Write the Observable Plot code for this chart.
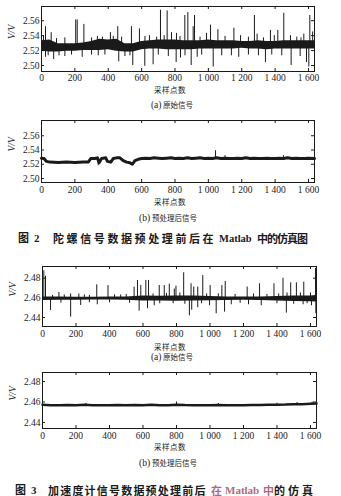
<!DOCTYPE html>
<html>
<head>
<meta charset="utf-8">
<script src="https://cdn.jsdelivr.net/npm/d3@7"></script>
<script src="https://cdn.jsdelivr.net/npm/@observablehq/plot@0.6"></script>
<style>
  body { margin: 0; background: #fff; }
  #page { position: relative; width: 341px; height: 496px; overflow: hidden; color: #1a1a1a; }
  .panel { position: absolute; left: 0; }
  .t { position: absolute; white-space: nowrap; line-height: 1; font-family: "Noto Sans CJK SC", sans-serif; }
  .c { transform: translate(-50%, -50%); }
  .cap { transform: translateY(-50%); font-weight: 700; font-size: 11px; }
  .latin { font-family: "Liberation Serif", serif; }
</style>
</head>
<body>
<div id="page"></div>
<script>
// ---------- shared axes ----------
const xTicks = [0, 200, 400, 600, 800, 1000, 1200, 1400, 1600];
const xDomain = [0, 1636];
const gyroTicks = [2.50, 2.52, 2.54, 2.56];
const accelTicks = [2.44, 2.46, 2.48];

// ---------- gyro, raw signal ----------
// envelope of the dense noise band, sampled every 50 points
const gyroEnvX  = [0, 50, 100, 150, 200, 250, 300, 350, 400, 450, 500, 550, 600, 650, 700, 750, 800, 850, 900, 950, 1000, 1050, 1100, 1150, 1200, 1250, 1300, 1350, 1400, 1450, 1500, 1550, 1600, 1636];
const gyroEnvLo = [2.519, 2.518, 2.518, 2.519, 2.519, 2.520, 2.520, 2.520, 2.521, 2.519, 2.518, 2.518, 2.521, 2.522, 2.522, 2.521, 2.521, 2.521, 2.521, 2.522, 2.522, 2.522, 2.522, 2.522, 2.523, 2.522, 2.522, 2.521, 2.522, 2.522, 2.522, 2.522, 2.522, 2.522];
const gyroEnvHi = [2.533, 2.534, 2.529, 2.529, 2.529, 2.530, 2.532, 2.535, 2.534, 2.535, 2.529, 2.529, 2.532, 2.533, 2.534, 2.534, 2.534, 2.533, 2.533, 2.533, 2.534, 2.533, 2.533, 2.533, 2.532, 2.532, 2.533, 2.532, 2.532, 2.533, 2.533, 2.533, 2.533, 2.533];
const gyroLevel = 2.527;
// upward spikes (sample index, peak value)
const gyroUpX = [24, 58, 205, 214, 254, 413, 457, 539, 587, 647, 713, 753, 779, 809, 859, 877, 909, 917, 989, 1013, 1057, 1153, 1193, 1276, 1292, 1372, 1416, 1452, 1492, 1572, 1608,
                 12, 90, 140, 300, 335, 365, 430, 480, 620, 690, 735, 830, 950, 1100, 1240, 1330, 1395, 1530, 1555, 1625];
const gyroUpV = [2.552, 2.544, 2.561, 2.561, 2.555, 2.544, 2.552, 2.552, 2.549, 2.540, 2.574, 2.573, 2.544, 2.543, 2.567, 2.571, 2.552, 2.567, 2.543, 2.554, 2.548, 2.550, 2.540, 2.567, 2.542, 2.547, 2.547, 2.570, 2.540, 2.542, 2.567,
                 2.540, 2.536, 2.537, 2.537, 2.539, 2.538, 2.539, 2.538, 2.539, 2.538, 2.540, 2.539, 2.538, 2.539, 2.538, 2.537, 2.540, 2.538, 2.537, 2.545];
// downward spikes
const gyroDownX = [24, 73, 105, 244, 463, 547, 619, 669, 807, 833, 897, 933, 1029, 1138, 1182, 1342, 1496, 1588, 1602,
                   40, 140, 180, 300, 340, 380, 500, 530, 700, 760, 860, 960, 1080, 1240, 1300, 1380, 1440, 1550];
const gyroDownV = [2.511, 2.508, 2.513, 2.511, 2.505, 2.500, 2.499, 2.501, 2.504, 2.510, 2.500, 2.511, 2.498, 2.513, 2.511, 2.504, 2.500, 2.504, 2.498,
                   2.513, 2.512, 2.514, 2.514, 2.513, 2.514, 2.512, 2.513, 2.514, 2.512, 2.513, 2.514, 2.513, 2.514, 2.513, 2.514, 2.513, 2.512];

// ---------- gyro, after preprocessing ----------
const gyroSmoothX = [0, 15, 30, 50, 100, 150, 200, 250, 280, 295, 320, 335, 345, 360, 385, 395, 415, 430, 450, 470, 490, 510, 530, 545, 560, 580, 600,
                     625, 650, 675, 700, 725, 750, 775, 800, 825, 850, 875, 900, 925, 950, 975, 1000, 1025, 1050, 1075, 1100, 1125, 1150, 1175, 1200, 1225, 1250, 1275, 1300, 1325, 1350, 1375, 1400, 1425, 1450, 1475, 1500, 1525, 1550, 1575, 1600, 1636];
const gyroSmoothV = [2.5285, 2.528, 2.524, 2.523, 2.5225, 2.523, 2.5225, 2.523, 2.523, 2.528, 2.528, 2.529, 2.522, 2.528, 2.529, 2.524, 2.523, 2.528, 2.529, 2.529, 2.525, 2.523, 2.522, 2.520, 2.525, 2.527, 2.528,
                     2.5285, 2.528, 2.529, 2.5285, 2.528, 2.5285, 2.529, 2.528, 2.5285, 2.528, 2.529, 2.528, 2.5285, 2.529, 2.528, 2.5285, 2.528, 2.529, 2.528, 2.5285, 2.528, 2.528, 2.5285, 2.528, 2.529, 2.528, 2.5285, 2.528, 2.528, 2.5285, 2.528, 2.528, 2.5285, 2.528, 2.529, 2.528, 2.5285, 2.528, 2.528, 2.5285, 2.528];
const gyroSmoothSpikeX = [340, 1043, 1100, 1450];
const gyroSmoothSpikeV = [2.518, 2.539, 2.532, 2.532];

// ---------- accelerometer, raw signal ----------
const accelEnvX  = [0, 100, 200, 300, 400, 500, 600, 700, 800, 900, 1000, 1100, 1200, 1300, 1400, 1500, 1600, 1636];
const accelEnvLo = [2.4573, 2.4575, 2.4576, 2.4578, 2.4578, 2.4575, 2.4568, 2.4568, 2.4565, 2.4568, 2.4571, 2.4573, 2.4575, 2.4573, 2.4568, 2.4563, 2.4561, 2.4558];
const accelEnvHi = [2.4610, 2.4608, 2.4606, 2.4606, 2.4608, 2.4610, 2.4618, 2.4616, 2.4620, 2.4618, 2.4613, 2.4610, 2.4608, 2.4610, 2.4613, 2.4618, 2.4620, 2.4623];
const accelLevel = 2.459;
const accelUpX = [8, 18, 98, 168, 217, 324, 391, 467, 547, 567, 587, 617, 633, 697, 727, 757, 787, 797, 843, 887, 903, 927, 957, 1001, 1071, 1091, 1222, 1296, 1382, 1436, 1482, 1516, 1560, 1630,
                  60, 130, 250, 280, 430, 500, 660, 740, 820, 980, 1050, 1150, 1260, 1340, 1410, 1460, 1540, 1600];
const accelUpV = [2.4875, 2.482, 2.4655, 2.464, 2.464, 2.4733, 2.4725, 2.463, 2.4709, 2.4777, 2.4725, 2.4777, 2.4777, 2.4725, 2.4725, 2.474, 2.469, 2.472, 2.4855, 2.4743, 2.471, 2.471, 2.4827, 2.4725, 2.4725, 2.4767, 2.471, 2.4743, 2.4743, 2.480, 2.4753, 2.4753, 2.476, 2.490,
                  2.4625, 2.463, 2.463, 2.4625, 2.463, 2.4635, 2.464, 2.4645, 2.465, 2.464, 2.464, 2.4635, 2.464, 2.4635, 2.464, 2.465, 2.465, 2.465];
const accelDownX = [48, 168, 228, 327, 577, 627, 667, 877, 891, 927, 997, 1037, 1087, 1127, 1230, 1306, 1456, 1556, 1606, 1632,
                    110, 280, 400, 520, 700, 780, 850, 950, 1180, 1400, 1500, 1580];
const accelDownV = [2.4472, 2.4404, 2.4523, 2.453, 2.4465, 2.449, 2.452, 2.4417, 2.4475, 2.450, 2.452, 2.4438, 2.4455, 2.453, 2.453, 2.452, 2.4445, 2.453, 2.452, 2.444,
                    2.4545, 2.455, 2.455, 2.4545, 2.454, 2.454, 2.4535, 2.454, 2.4545, 2.454, 2.4535, 2.454];

// ---------- accelerometer, after preprocessing ----------
const accelSmoothX = [0, 50, 100, 150, 200, 250, 300, 350, 400, 450, 500, 550, 600, 650, 700, 750, 800, 850, 900, 950, 1000, 1050, 1100, 1150, 1200, 1250, 1300, 1350, 1400, 1450, 1500, 1550, 1600, 1636];
const accelSmoothV = [2.4572, 2.4568, 2.4567, 2.4570, 2.4568, 2.4572, 2.4568, 2.4567, 2.4569, 2.4571, 2.4567, 2.4570, 2.4568, 2.4572, 2.4569, 2.4568, 2.4574, 2.4570, 2.4568, 2.4567, 2.4569, 2.4571, 2.4568, 2.4567, 2.4569, 2.4571, 2.4570, 2.4572, 2.4574, 2.4575, 2.4578, 2.4579, 2.4582, 2.4585];
const accelSmoothSpikeX = [260, 800, 1050, 1400, 1520, 1610];
const accelSmoothSpikeV = [2.4585, 2.4600, 2.4585, 2.4588, 2.4595, 2.4598];

// ---------- text ----------
const xAxisTitle = "采样点数";
const yAxisTitle = "V/V";
const subRaw = "(a) 原始信号";
const subProc = "(b) 预处理后信号";

const ink = "#1a1a1a";
const fmtX = d => d >= 1000 ? `${Math.floor(d / 1000)} ${String(d % 1000).padStart(3, "0")}` : String(d);
const fmtY = d3.format(".2f");
const rows = (xs, a, b) => xs.map((x, i) => ({x, a: a[i], b: b ? b[i] : undefined}));

function panel({top, height, marginTop, marginBottom, marginLeft, marginRight, yDomain, yTicks, tickPadding, marks}) {
  const fw = 341 - marginLeft - marginRight;   // frame width in px
  const fh = height - marginTop - marginBottom; // frame height in px
  const tick = 3;                               // inward tick length
  const svg = Plot.plot({
    width: 341, height, marginTop, marginBottom, marginLeft, marginRight,
    style: {fontFamily: "'Liberation Serif', serif", fontSize: "9.5px", color: ink, background: "transparent"},
    x: {domain: xDomain},
    y: {domain: yDomain},
    marks: [
      ...marks,
      Plot.frame({stroke: ink, strokeWidth: 1}),
      // Matlab-style inward ticks on all four sides
      Plot.tickX(xTicks, {x: d => d, insetTop: fh - tick, stroke: ink}),
      Plot.tickX(xTicks, {x: d => d, insetBottom: fh - tick, stroke: ink}),
      Plot.tickY(yTicks, {y: d => d, insetRight: fw - tick, stroke: ink}),
      Plot.tickY(yTicks, {y: d => d, insetLeft: fw - tick, stroke: ink}),
      Plot.axisX(xTicks, {anchor: "bottom", tickSize: 0, tickPadding, tickFormat: fmtX, label: null}),
      Plot.axisY(yTicks, {anchor: "left", tickSize: 0, tickPadding: 2, tickFormat: fmtY, label: null}),
      Plot.text([yAxisTitle], {frameAnchor: "left", rotate: -90, dx: -30, fontStyle: "italic", fontSize: 9.5, fill: ink})
    ]
  });
  svg.classList.add("panel");
  svg.style.top = top + "px";
  document.getElementById("page").appendChild(svg);
}

function rawMarks(envX, lo, hi, level, upX, upV, downX, downV) {
  return [
    Plot.areaY(rows(envX, lo, hi), {x: "x", y1: "a", y2: "b", fill: ink}),
    Plot.ruleX(rows(upX, upV), {x: "x", y1: level, y2: "a", stroke: ink, strokeWidth: 1}),
    Plot.ruleX(rows(downX, downV), {x: "x", y1: level, y2: "a", stroke: ink, strokeWidth: 1})
  ];
}

function smoothMarks(xs, vs, spikeX, spikeV, level, width) {
  return [
    Plot.line(rows(xs, vs), {x: "x", y: "a", stroke: ink, strokeWidth: width}),
    Plot.ruleX(rows(spikeX, spikeV), {x: "x", y1: level, y2: "a", stroke: ink, strokeWidth: 1})
  ];
}

// Fig. 2 (a): gyro raw
panel({top: 0, height: 87, marginTop: 6, marginBottom: 16, marginLeft: 41, marginRight: 27,
  yDomain: [2.492, 2.579], yTicks: gyroTicks, tickPadding: 3,
  marks: rawMarks(gyroEnvX, gyroEnvLo, gyroEnvHi, gyroLevel, gyroUpX, gyroUpV, gyroDownX, gyroDownV)});
// Fig. 2 (b): gyro preprocessed
panel({top: 114, height: 84, marginTop: 6, marginBottom: 16, marginLeft: 41, marginRight: 27,
  yDomain: [2.4944, 2.5814], yTicks: gyroTicks, tickPadding: 4,
  marks: smoothMarks(gyroSmoothX, gyroSmoothV, gyroSmoothSpikeX, gyroSmoothSpikeV, 2.528, 3)});
// Fig. 3 (a): accelerometer raw
panel({top: 260, height: 82, marginTop: 6, marginBottom: 16, marginLeft: 42, marginRight: 25,
  yDomain: [2.4309, 2.4919], yTicks: accelTicks, tickPadding: 3.5,
  marks: rawMarks(accelEnvX, accelEnvLo, accelEnvHi, accelLevel, accelUpX, accelUpV, accelDownX, accelDownV)});
// Fig. 3 (b): accelerometer preprocessed
panel({top: 366, height: 78, marginTop: 6, marginBottom: 16, marginLeft: 42, marginRight: 25,
  yDomain: [2.4341, 2.4888], yTicks: accelTicks, tickPadding: 3.5,
  marks: smoothMarks(accelSmoothX, accelSmoothV, accelSmoothSpikeX, accelSmoothSpikeV, 2.457, 2.5)});

// ---------- labels and captions ----------
const page = document.getElementById("page");
function label(html, x, y, cls, style = "") {
  const d = document.createElement("div");
  d.className = "t " + cls;
  d.style.cssText = `left:${x}px;top:${y}px;${style}`;
  d.innerHTML = html;
  page.appendChild(d);
}
const sub = (s) => s.replace(/^\((a|b)\)/, '<span class="latin" style="font-size:9.5px">($1)</span>');

label(xAxisTitle, 170, 90, "c", "font-size:7.5px;letter-spacing:0.5px");
label(sub(subRaw), 172, 105.5, "c", "font-size:7.5px");
label(xAxisTitle, 170, 202, "c", "font-size:7.5px;letter-spacing:0.5px");
label(sub(subProc), 168, 219, "c", "font-size:7.5px");
label(xAxisTitle, 170, 347, "c", "font-size:7.5px;letter-spacing:0.5px");
label(sub(subRaw), 172, 357.5, "c", "font-size:7.5px");
label(xAxisTitle, 170, 447, "c", "font-size:7.5px;letter-spacing:0.5px");
label(sub(subProc), 168, 464, "c", "font-size:7.5px");

// Fig. 2 caption
label('图&nbsp;&nbsp;<span class="latin">2</span>', 18, 237.5, "cap");
label("陀螺信号数据预处理前后在", 53, 237.5, "cap", "letter-spacing:2.6px");
label('<span class="latin" style="font-size:10.5px">Matlab</span>', 219, 237.5, "cap");
label("中的仿真图", 257, 237.5, "cap", "letter-spacing:-1px");

// Fig. 3 caption
const pink = "color:#b06a80;";
label('图&nbsp;&nbsp;<span class="latin">3</span>', 15, 490, "cap");
label("加速度计信号数据预处理前后", 48, 490, "cap", "letter-spacing:1.2px");
label("在", 211, 490, "cap", pink);
label('<span class="latin" style="font-size:11px">Matlab</span>', 225, 490, "cap", pink);
label("中", 263, 490, "cap", pink);
label("的仿真", 274, 490, "cap", "letter-spacing:3px");
</script>
</body>
</html>
